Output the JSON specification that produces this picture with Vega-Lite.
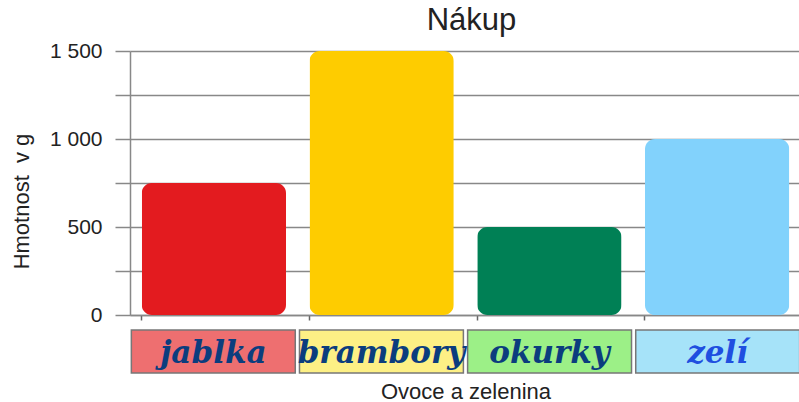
{
  "$schema": "https://vega.github.io/schema/vega-lite/v6.json",
  "background": "white",
  "padding": {"left": 10, "top": 5, "right": 0, "bottom": 0},
  "config": {"font": "Liberation Sans", "view": {"stroke": null}},
  "data": {"values": [
    {"kategorie": "jablka", "hmotnost": 750},
    {"kategorie": "brambory", "hmotnost": 1500},
    {"kategorie": "okurky", "hmotnost": 500},
    {"kategorie": "zelí", "hmotnost": 1000}
  ]},
  "spacing": 4,
  "resolve": {"scale": {"x": "independent", "color": "independent"}},
  "vconcat": [
    {
      "width": 671,
      "height": 264,
      "title": {"text": "Nákup", "fontSize": 31, "fontWeight": "normal", "color": "#222", "anchor": "middle", "frame": "group", "dx": 6, "offset": 3},
      "mark": {"type": "bar", "cornerRadius": 10},
      "encoding": {
        "x": {"field": "kategorie", "type": "nominal", "sort": null,
          "scale": {"paddingInner": 0.14, "paddingOuter": 0.07},
          "axis": {"labels": false, "title": null, "ticks": true, "tickSize": 5, "bandPosition": 0, "domainColor": "#888", "domainWidth": 1.5, "tickColor": "#666", "tickWidth": 1.5}},
        "y": {"field": "hmotnost", "type": "quantitative",
          "scale": {"domain": [0, 1500]},
          "axis": {"values": [0, 250, 500, 750, 1000, 1250, 1500],
            "labelExpr": "datum.value % 500 == 0 ? replace(format(datum.value, ','), ',', ' ') : ''",
            "labelFontSize": 21, "labelColor": "#222", "labelPadding": 13,
            "tickSize": 15, "tickColor": "#888", "tickWidth": 1.5,
            "domainColor": "#888", "domainWidth": 1.5,
            "gridColor": "#888", "gridWidth": 1.5,
            "title": "Hmotnost\u00a0 v g", "titleFontSize": 22, "titleFontWeight": "normal", "titleColor": "#222", "titlePadding": 16, "titleY": 150}},
        "color": {"field": "kategorie", "type": "nominal", "sort": null,
          "scale": {"domain": ["jablka", "brambory", "okurky", "zelí"], "range": ["#e31b1f", "#fecc00", "#008055", "#82d2fc"]},
          "legend": null}
      }
    },
    {
      "width": 671,
      "height": 43,
      "encoding": {
        "x": {"field": "kategorie", "type": "nominal", "sort": null,
          "scale": {"paddingInner": 0.025, "paddingOuter": 0.008},
          "axis": {"labels": false, "ticks": false, "domain": false, "title": "Ovoce a zelenina", "titleFontSize": 22, "titleFontWeight": "normal", "titleColor": "#222", "titlePadding": 8}}
      },
      "layer": [
        {
          "mark": {"type": "rect", "stroke": "#777", "strokeWidth": 1.5},
          "encoding": {
            "fill": {"field": "kategorie", "type": "nominal", "sort": null,
              "scale": {"domain": ["jablka", "brambory", "okurky", "zelí"], "range": ["#ee6f70", "#fdf085", "#9cf087", "#a6e3f9"]},
              "legend": null}
          }
        },
        {
          "mark": {"type": "text", "font": "DejaVu Serif", "fontStyle": "italic", "fontWeight": "bold", "fontSize": 31, "baseline": "middle", "dy": 2},
          "encoding": {
            "text": {"field": "kategorie"},
            "color": {"field": "kategorie", "type": "nominal", "sort": null,
              "scale": {"domain": ["jablka", "brambory", "okurky", "zelí"], "range": ["#0b3d7e", "#0b3d7e", "#0b3d7e", "#1f4fe0"]},
              "legend": null}
          }
        }
      ]
    }
  ]
}
